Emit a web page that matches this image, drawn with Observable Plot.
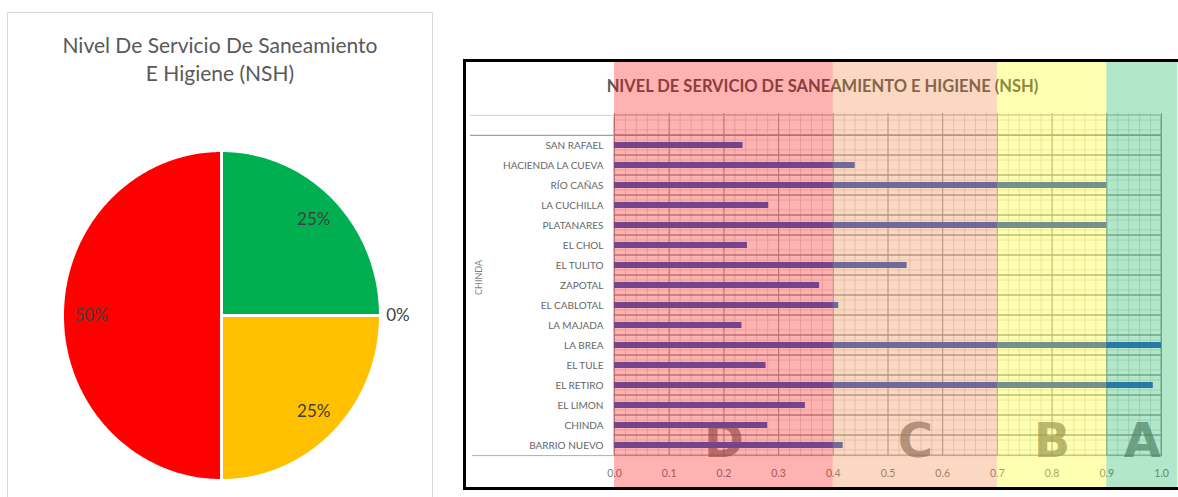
<!DOCTYPE html>
<html><head><meta charset="utf-8">
<script src="https://cdn.jsdelivr.net/npm/d3@7"></script>
<script src="https://cdn.jsdelivr.net/npm/@observablehq/plot@0.6"></script>
<style>
html,body{margin:0;padding:0;background:#fff;overflow:hidden;width:1178px;height:497px}
#card{position:absolute;left:7px;top:12px;width:426px;height:500px;border:1px solid #d9d9d9;box-sizing:border-box}
#pieTitle{position:absolute;left:7px;top:31px;width:426px;text-align:center;font-family:Lato,sans-serif;font-size:21px;color:#595959;line-height:28px}
#pie{position:absolute;left:21px;top:135px}
#frame{position:absolute;left:463px;top:59px;width:740px;height:431px;border:3px solid #000;box-sizing:border-box;background:#fff}
#bars{position:absolute;left:466px;top:62px}
</style></head><body>
<div id="card"></div>
<div id="pieTitle">Nivel De Servicio De Saneamiento<br>E Higiene (NSH)</div>
<div id="pie"></div>
<div id="frame"></div>
<div id="bars"></div>
<script>
// ---- Pie data ----
const pieLevels = ["A", "B", "C", "D"];
const pieShares = [0.25, 0, 0.25, 0.50];
const pieColors = ["#00B050", "#FFFF00", "#FFC000", "#FF0000"];
const pieLabels = ["25%", "0%", "25%", "50%"];

// ---- Bar data ----
const communities = ["SAN RAFAEL", "HACIENDA LA CUEVA", "RÍO CAÑAS", "LA CUCHILLA", "PLATANARES", "EL CHOL", "EL TULITO", "ZAPOTAL", "EL CABLOTAL", "LA MAJADA", "LA BREA", "EL TULE", "EL RETIRO", "EL LIMON", "CHINDA", "BARRIO NUEVO"];
const nshValues = [0.235, 0.44, 0.90, 0.282, 0.90, 0.243, 0.535, 0.375, 0.41, 0.233, 1.0, 0.277, 0.985, 0.349, 0.28, 0.418];
const groupName = "CHINDA";
const bandNames = ["D", "C", "B", "A"];
const bandFrom = [0, 0.4, 0.7, 0.9];
const bandTo = [0.4, 0.7, 0.9, 1.03];
const bandColors = ["#FF0000", "#ED7D31", "#FFFF00", "#00B050"];
const xTicks = [0, 0.1, 0.2, 0.3, 0.4, 0.5, 0.6, 0.7, 0.8, 0.9, 1.0];
const chartTitle = "NIVEL DE SERVICIO DE SANEAMIENTO E HIGIENE (NSH)";

// ---- Pie ----
const pieData = pieLevels.map((k, i) => ({key: k, share: pieShares[i], color: pieColors[i], label: pieLabels[i]}));
const arcs = d3.pie().sort(null).value(d => d.share)(pieData);
const piePts = [];
arcs.forEach(a => {
  if (a.endAngle - a.startAngle <= 0) return;
  piePts.push({key: a.data.key, color: a.data.color, x: 0, y: 0});
  const n = Math.max(2, Math.ceil((a.endAngle - a.startAngle) / 0.01));
  for (let j = 0; j <= n; j++) {
    const t = a.startAngle + (a.endAngle - a.startAngle) * j / n;
    piePts.push({key: a.data.key, color: a.data.color, x: Math.sin(t), y: Math.cos(t)});
  }
});
const pieText = arcs.map(a => {
  const m = (a.startAngle + a.endAngle) / 2;
  const r = a.data.share > 0 ? 0.82 : 1.11;
  return {label: a.data.label, x: r * Math.sin(m), y: r * Math.cos(m)};
});
const pie = Plot.plot({
  width: 400, height: 360,
  marginTop: 0, marginBottom: 0, marginLeft: 0, marginRight: 0,
  x: {domain: [-200 / 159, 200 / 159], axis: null},
  y: {domain: [-180 / 165, 180 / 165], axis: null},
  color: {type: "identity"},
  style: {fontFamily: "Lato, sans-serif", background: "transparent"},
  marks: [
    Plot.line(piePts, {x: "x", y: "y", z: "key", fill: "color", stroke: "#fff", strokeWidth: 3, strokeLinejoin: "miter", curve: "linear-closed"}),
    Plot.text(pieText, {x: "x", y: "y", text: "label", fontSize: 17, fill: "#404040"})
  ]
});
document.getElementById("pie").appendChild(pie);

// ---- Bars ----
const rows = communities.map((c, i) => ({name: c, value: nshValues[i]}));
const rowNames = ["", ...communities];
const bands = bandNames.map((b, i) => ({name: b, from: bandFrom[i], to: bandTo[i], color: bandColors[i]}));
const W = 712, H = 425, mL = 148, mR = 17, mT = 51, mB = 31;
const rowH = (H - mT - mB) / rowNames.length;
const minorX = d3.range(0, 51).map(i => i / 50);
const barsChart = Plot.plot({
  width: W, height: H,
  marginLeft: mL, marginRight: mR, marginTop: mT, marginBottom: mB,
  x: {domain: [0, 1]},
  y: {domain: rowNames, padding: 0},
  color: {type: "identity"},
  style: {fontFamily: "Lato, sans-serif", background: "transparent", overflow: "visible"},
  marks: [
    Plot.ruleX(minorX, {stroke: "#c8c8c8", strokeWidth: 0.6}),
    Plot.barX(rowNames, {y: d => d, x1: 0, x2: 1, fill: "none", stroke: "#cfcfcf", strokeWidth: 0.6, insetTop: rowH / 4, insetBottom: rowH / 4}),
    Plot.barX(rowNames, {y: d => d, x1: 0, x2: 1, fill: "none", stroke: "#9a9a9a", strokeWidth: 0.9}),
    Plot.ruleX(xTicks, {stroke: "#9a9a9a", strokeWidth: 0.9}),
    Plot.ruleY([""], {dy: -rowH / 2, insetLeft: -(mL - 4), stroke: "#d0d0d0"}),
    Plot.ruleY(["SAN RAFAEL"], {dy: -rowH / 2, insetLeft: -(mL - 4), stroke: "#a0a0a0", strokeWidth: 1.2}),
    Plot.ruleY(["BARRIO NUEVO"], {dy: rowH / 2, insetLeft: -(mL - 6), stroke: "#b0b0b0", strokeWidth: 1}),
    Plot.text(bands, {x: d => (d.from + d.to) / 2, text: "name", frameAnchor: "bottom", lineAnchor: "bottom", dy: 0, fontSize: 48, fontWeight: "900", fontFamily: "DejaVu Sans", fill: "#6e6e6e", fillOpacity: 0.7}),
    Plot.barX(rows, {x: "value", y: "name", fill: "#3A62C8", insetTop: 7, insetBottom: 7}),
    Plot.axisY({label: null, tickSize: 0, tickPadding: 11, fontSize: 10, color: "#666"}),
    Plot.axisX(xTicks, {label: null, anchor: "bottom", tickSize: 0, tickPadding: 13, fontSize: 10.5, color: "#7f7f7f", tickFormat: d3.format(".1f")}),
    Plot.text([groupName], {frameAnchor: "left", dx: -135, dy: 10, rotate: -90, fontSize: 9, fill: "#7f7f7f"}),
    Plot.text([chartTitle], {frameAnchor: "top", dx: -(mL - mR) / 2, dy: -33, fontSize: 16.5, fontWeight: "bold", fill: "#595959"}),
    Plot.rect(bands, {x1: "from", x2: "to", fill: "color", fillOpacity: 0.3, insetTop: -mT, insetBottom: -mB})
  ]
});
document.getElementById("bars").appendChild(barsChart);
</script>
</body></html>
